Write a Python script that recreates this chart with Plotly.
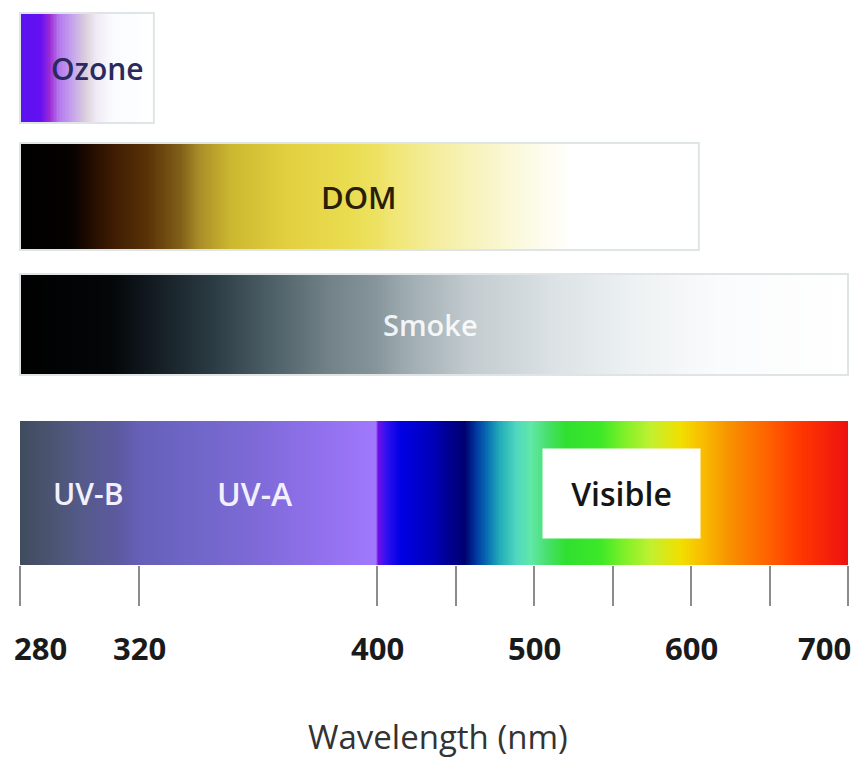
import numpy as np
import plotly.graph_objects as go

# ---- data -------------------------------------------------------------
BAR_NAMES = ["Ozone", "DOM", "Smoke", "Spectrum"]
BAR_START_NM = [280, 280, 280, 280]
BAR_END_NM = [325, 605, 700, 700]

OZONE_STOPS_NM = [280, 287, 290, 293, 298, 302, 306, 311, 325]
OZONE_COLORS = ["#5a12ee", "#6410f2", "#9c2ad6", "#b478ee", "#c8a8ec",
                "#dccfdc", "#f0ecf4", "#fafbff", "#ffffff"]

DOM_STOPS_NM = [280, 297, 302, 310, 323, 334, 340, 351, 370, 390, 410, 440, 475, 500, 525, 605]
DOM_COLORS = ["#000000", "#050200", "#1a0800", "#3a1a02", "#5a3208", "#806018",
              "#a88c28", "#ccb830", "#e2d040", "#eadc50", "#f0e674", "#f5eea2",
              "#f9f6cc", "#fcfbe8", "#ffffff", "#ffffff"]

SMOKE_STOPS_NM = [280, 310, 324, 344, 364, 384, 415, 459, 516, 567, 618, 700]
SMOKE_COLORS = ["#000000", "#040608", "#121a20", "#2a3a42", "#4c5e66", "#728288",
                "#9aa8ae", "#c2cbcf", "#dde3e6", "#eef2f3", "#fafbfc", "#ffffff"]

SPECTRUM_STOPS_NM = [280, 290, 300, 313, 320, 340, 360, 380, 399.5,
                     400.5, 406, 415, 436, 446, 456, 464, 471, 478, 489, 498,
                     508, 520, 542, 558, 574, 593, 606, 625, 650, 669, 700]
SPECTRUM_COLORS = ["#3e4c5e", "#4a5470", "#545a88", "#5c5aa0", "#6660b8", "#7066c8",
                   "#7e6ad8", "#9070ec", "#a078fc",
                   "#7010e8", "#3010f0", "#0000e4", "#0000b8", "#000090", "#000070",
                   "#0040a4", "#0a74b4", "#22aab8", "#50d8c0", "#60e8a8",
                   "#48e070", "#30e030", "#3ce828", "#80f028", "#c0f030", "#f0e000",
                   "#f8c000", "#f89000", "#ff6000", "#ff3800", "#ee1010"]

TICK_NM = [280, 320, 400, 450, 500, 550, 600, 650, 700]
LABEL_NM = [280, 320, 400, 500, 600, 700]
LABEL_TEXT = ["280", "320", "400", "500", "600", "700"]

BAR_LABELS = ["Ozone", "DOM", "Smoke", "UV-B", "UV-A", "Visible"]
BAR_LABEL_NM = [306, 394, 434, 303, 359, 556]

X_TITLE = "Wavelength (nm)"

# ---- layout settings ----------------------------------------------------
W, H = 859, 771
BAR_ROWS = {"Ozone": (13, 123), "DOM": (143, 250), "Smoke": (274, 375), "Spectrum": (421, 565)}
LABEL_ROW = {"Ozone": "Ozone", "DOM": "DOM", "Smoke": "Smoke",
             "UV-B": "Spectrum", "UV-A": "Spectrum", "Visible": "Spectrum"}
LABEL_STYLE = {
    "Ozone": dict(color="#2a2a5c", size=30),
    "DOM": dict(color="#2a1e08", size=31),
    "Smoke": dict(color="rgba(255,255,255,0.88)", size=29),
    "UV-B": dict(color="#f2f0ff", size=30),
    "UV-A": dict(color="#f2f0ff", size=32),
    "Visible": dict(color="#151515", size=32),
}
FONT = "Open Sans, Noto Sans, sans-serif"
BORDER = "#dfe4e6"


def pos(wl):
    """Broken wavelength scale: the UV part is stretched relative to the visible part."""
    wl = np.asarray(wl, dtype=float)
    return np.where(wl <= 400, 20 + (wl - 280) * 2.975, 377 + (wl - 400) * 1.57)


def scale_from(stops, colors, lo, hi):
    return [[(s - lo) / (hi - lo), c] for s, c in zip(stops, colors)]


GRADIENTS = {
    "Ozone": (OZONE_STOPS_NM, OZONE_COLORS),
    "DOM": (DOM_STOPS_NM, DOM_COLORS),
    "Smoke": (SMOKE_STOPS_NM, SMOKE_COLORS),
    "Spectrum": (SPECTRUM_STOPS_NM, SPECTRUM_COLORS),
}

fig = go.Figure()

for name, lo, hi in zip(BAR_NAMES, BAR_START_NM, BAR_END_NM):
    stops, colors = GRADIENTS[name]
    edges = np.arange(lo, hi + 0.25, 0.5)
    centers = (edges[:-1] + edges[1:]) / 2
    y0, y1 = BAR_ROWS[name]
    fig.add_trace(go.Heatmap(
        x=pos(edges), y=[y0, y1], z=[centers],
        zmin=lo, zmax=hi,
        colorscale=scale_from(stops, colors, lo, hi),
        showscale=False, hoverinfo="skip", zsmooth=False,
    ))
    if name != "Spectrum":
        fig.add_shape(type="rect", x0=float(pos(lo)), x1=float(pos(hi)), y0=y0, y1=y1,
                      line=dict(color=BORDER, width=2), fillcolor="rgba(0,0,0,0)")

# labels on the bars
for text, wl in zip(BAR_LABELS, BAR_LABEL_NM):
    y0, y1 = BAR_ROWS[LABEL_ROW[text]]
    style = LABEL_STYLE[text]
    extra = {}
    if text == "Visible":
        extra = dict(bgcolor="white", width=155, height=87)
    fig.add_annotation(
        x=float(pos(wl)), y=(y0 + y1) / 2, text=text, showarrow=False,
        xanchor="center", yanchor="middle",
        font=dict(family=FONT, size=style["size"], color=style["color"], weight=600),
        **extra,
    )

# tick labels below the spectrum
for wl, text in zip(LABEL_NM, LABEL_TEXT):
    anchor, shift = "center", 0
    if wl == LABEL_NM[0]:
        anchor, shift = "left", -8
    elif wl == LABEL_NM[-1]:
        anchor, shift = "right", 5
    fig.add_annotation(
        x=float(pos(wl)), y=648, text=text, showarrow=False,
        xanchor=anchor, xshift=shift, yanchor="middle",
        font=dict(family=FONT, size=31, color="#1a1a1a", weight=700),
    )

fig.add_annotation(
    x=438 / W, xref="paper", y=736, text=X_TITLE, showarrow=False,
    xanchor="center", yanchor="middle",
    font=dict(family=FONT, size=33, color="#333333", weight=500),
)

spec_bottom = BAR_ROWS["Spectrum"][1]
fig.update_layout(
    width=W, height=H,
    margin=dict(l=0, r=0, t=0, b=0),
    paper_bgcolor="white", plot_bgcolor="white",
    showlegend=False,
    xaxis=dict(
        range=[0, W], showgrid=False, zeroline=False, showline=False,
        anchor="free", position=1 - spec_bottom / H,
        tickmode="array", tickvals=pos(TICK_NM).tolist(),
        ticks="outside", ticklen=40, tickwidth=1.5, tickcolor="#8c8c8c",
        showticklabels=False, fixedrange=True,
    ),
    yaxis=dict(range=[H, 0], visible=False, fixedrange=True),
)

fig.write_html("out.html")
